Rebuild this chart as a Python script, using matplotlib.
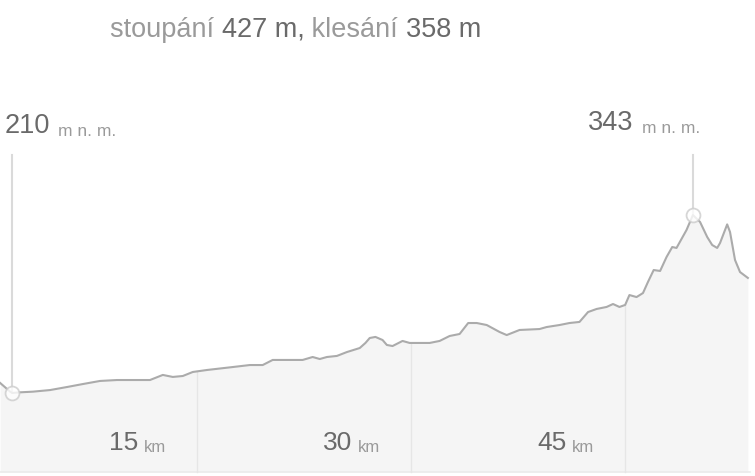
import numpy as np
import matplotlib
matplotlib.use('Agg')
import matplotlib.pyplot as plt
import matplotlib.transforms as mtransforms

plt.rcParams['font.family'] = ['Liberation Sans', 'DejaVu Sans']

# výškový profil trasy (km, m n. m.)
dist_km = [1.2, 1.9, 2.05, 2.6, 3.5, 4.7, 5.9, 7.0, 8.2, 9.4, 11.7, 12.6, 13.3, 14.0,
           14.7, 15.7, 17.5, 18.7, 19.6, 20.3, 22.4, 23.1, 23.6, 24.1, 24.8, 25.5,
           26.4, 26.8, 27.1, 27.5, 28.0, 28.3, 28.7, 29.4, 29.9, 31.3, 32.0, 32.7,
           33.4, 34.0, 34.6, 35.3, 36.2, 36.7, 37.6, 39.0, 39.5, 40.4, 41.1, 41.8,
           42.4, 43.0, 43.7, 44.15, 44.6, 45.0, 45.3, 45.8, 46.25, 46.6, 47.0, 47.45,
           47.9, 48.3, 48.6, 49.3, 49.75, 50.25, 50.75, 51.1, 51.45, 51.65, 52.15,
           52.35, 52.7, 53.05, 53.6]
elev_m = [217.5, 211.0, 210.0, 210.5, 211.0, 212.2, 214.5, 216.7, 219.0, 219.7, 219.7,
          223.5, 222.0, 222.7, 225.7, 227.2, 229.4, 230.9, 230.9, 234.7, 234.7, 236.9,
          235.4, 236.9, 237.7, 240.6, 243.6, 247.4, 251.1, 251.9, 249.6, 245.9, 245.1,
          248.9, 247.4, 247.4, 248.9, 252.6, 254.1, 262.3, 262.3, 260.8, 255.6, 253.3,
          257.1, 257.8, 259.3, 260.8, 262.3, 263.1, 270.5, 272.8, 274.3, 276.5, 274.3,
          275.8, 283.2, 281.7, 284.7, 293.0, 301.9, 301.2, 311.6, 319.1, 318.4, 331.8,
          343.0, 337.8, 326.6, 320.6, 318.4, 322.1, 336.0, 330.3, 309.4, 300.4, 296.0]

grid_km = [15, 30, 45]
title_parts = [('stoupání ', 'light'), ('427 m,', 'dark'), (' klesání ', 'light'), ('358 m', 'dark')]
unit_label = 'm n. m.'

LIGHT = '#9a9a9a'
DARK = '#6a6a6a'
LINE = '#ababab'
FILL = '#f5f5f5'

x = np.array(dist_km)
y = np.array(elev_m)

fig = plt.figure(figsize=(7.55, 4.76), dpi=100)
ax = fig.add_axes([0, 0, 1, 1])
ax.set_xlim(1.19, 54.10)
ax.set_ylim(147.97, 503.7)
ax.axis('off')

base = 151.0
ax.fill_between(x, y, base, color=FILL, lw=0, zorder=1)
ax.plot([x[0], 53.75], [base, base], color='#ebebeb', lw=1.2, zorder=2)

# svislé čáry km
for g in grid_km:
    top = np.interp(g, x, y)
    ax.plot([g, g], [base, top], color='#e6e6e6', lw=1.0, zorder=2)

ax.plot(x, y, color=LINE, lw=1.5, zorder=3, solid_joinstyle='round')

# minimum a maximum
i_min = int(np.argmin(y))
i_max = int(np.argmax(y))
line_top = 388
for i in (i_min, i_max):
    ax.plot([x[i], x[i]], [y[i], line_top], color='#dadada', lw=1.5, zorder=2)
    ax.plot(x[i], y[i], 'o', ms=10, mfc='white', mec='#cccccc', mew=1.3, alpha=0.8, zorder=4)

blend = mtransforms.blended_transform_factory(ax.transData, fig.transFigure)
lab_y = 1 - 133 / 476

t = ax.text(x[i_min] - 0.55, lab_y, f'{y[i_min]:.0f}', transform=blend, fontsize=19.5,
            color=DARK, ha='left', va='baseline')
ax.annotate(unit_label, xy=(1, 0), xycoords=t, xytext=(6, 0), textcoords='offset points',
            fontsize=12.5, color=LIGHT, ha='left', va='bottom')

u = ax.text(x[i_max] + 0.5, lab_y, unit_label, transform=blend, fontsize=12.5,
            color=LIGHT, ha='right', va='baseline')
ax.annotate(f'{y[i_max]:.0f}', xy=(0, 0), xycoords=u, xytext=(-6, 0), textcoords='offset points',
            fontsize=19.5, color=DARK, ha='right', va='bottom')

# popisky km
for g in grid_km:
    k = ax.text(g - 2.15, 1 - 452 / 476, 'km', transform=blend, fontsize=12,
                color=LIGHT, ha='right', va='baseline')
    ax.annotate(str(g), xy=(0, 0), xycoords=k, xytext=(-4, 0), textcoords='offset points',
                fontsize=19, color=DARK, ha='right', va='bottom')

# titulek
prev = None
for txt, tone in title_parts:
    c = DARK if tone == 'dark' else LIGHT
    if prev is None:
        prev = fig.text(110 / 755, 1 - 37 / 476, txt, fontsize=19.5, color=c, ha='left', va='baseline')
    else:
        prev = ax.annotate(txt, xy=(1, 0), xycoords=prev, fontsize=19.5, color=c,
                           ha='left', va='bottom')

fig.savefig('out.png', dpi=100, facecolor='white')
